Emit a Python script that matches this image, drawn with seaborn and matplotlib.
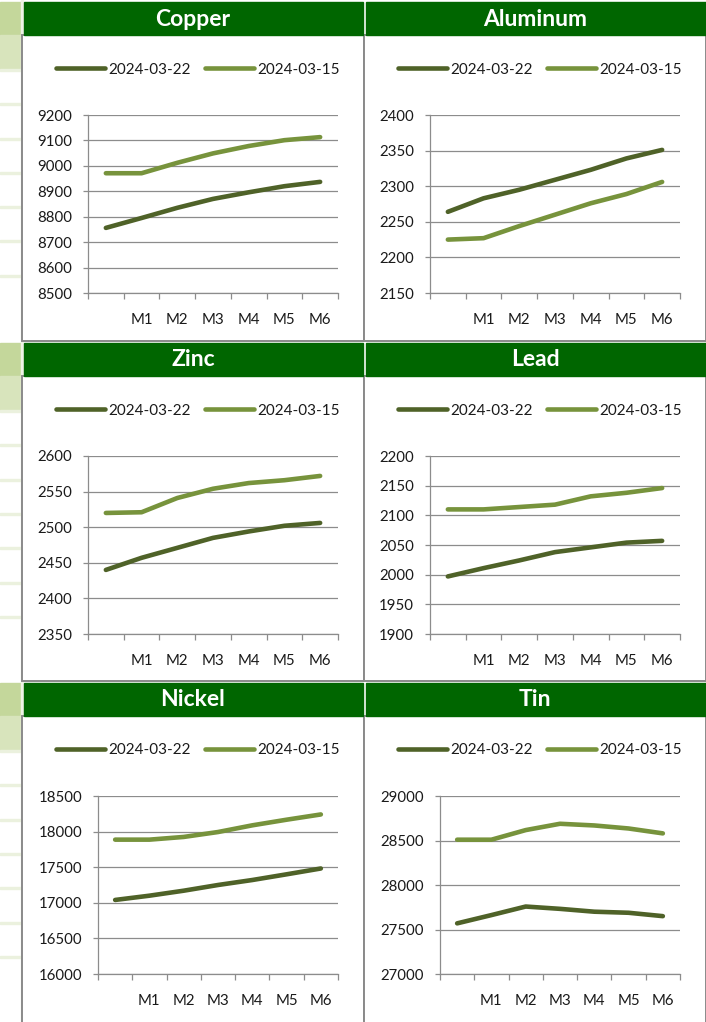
"""
Six-panel LME forward-curve chart (Excel style), rebuilt with seaborn.
"""
import matplotlib
matplotlib.use("Agg")
import matplotlib.pyplot as plt
from matplotlib.patches import Rectangle
import numpy as np
import pandas as pd
import seaborn as sns

W, H = 706, 1022

# ---- data -------------------------------------------------------------
CONTRACTS = ["", "M1", "M2", "M3", "M4", "M5", "M6"]
DATES = ["2024-03-22", "2024-03-15"]
METALS = ["Copper", "Aluminum", "Zinc", "Lead", "Nickel", "Tin"]

COPPER_0322 = [8756, 8795, 8835, 8870, 8896, 8920, 8937]
COPPER_0315 = [8971, 8971, 9012, 9049, 9078, 9101, 9113]
ALUMINUM_0322 = [2264, 2283, 2295, 2309, 2323, 2339, 2351]
ALUMINUM_0315 = [2225, 2227, 2244, 2260, 2276, 2289, 2306]
ZINC_0322 = [2440, 2457, 2471, 2485, 2494, 2502, 2506]
ZINC_0315 = [2520, 2521, 2541, 2554, 2562, 2566, 2572]
LEAD_0322 = [1997, 2011, 2024, 2038, 2046, 2054, 2057]
LEAD_0315 = [2110, 2110, 2114, 2118, 2132, 2138, 2146]
NICKEL_0322 = [17040, 17100, 17170, 17250, 17320, 17400, 17482]
NICKEL_0315 = [17887, 17887, 17925, 17994, 18088, 18167, 18241]
TIN_0322 = [27569, 27662, 27758, 27732, 27700, 27688, 27650]
TIN_0315 = [28509, 28509, 28617, 28688, 28669, 28635, 28580]

SERIES = {
    "Copper": (COPPER_0322, COPPER_0315),
    "Aluminum": (ALUMINUM_0322, ALUMINUM_0315),
    "Zinc": (ZINC_0322, ZINC_0315),
    "Lead": (LEAD_0322, LEAD_0315),
    "Nickel": (NICKEL_0322, NICKEL_0315),
    "Tin": (TIN_0322, TIN_0315),
}

# y axis (min, max, step) as shown on each chart
Y_AXES = {
    "Copper": (8500, 9200, 100),
    "Aluminum": (2150, 2400, 50),
    "Zinc": (2350, 2600, 50),
    "Lead": (1900, 2200, 50),
    "Nickel": (16000, 18500, 500),
    "Tin": (27000, 29000, 500),
}

# ---- style ------------------------------------------------------------
DARK = "#4f6228"
LIGHT = "#77933c"
HEADER = "#006600"
GRID = "#8c8c8c"
TEXT = "#1a1a1a"
CELL_MID = "#c4d79b"
CELL_LIGHT = "#d8e4bc"
CELL_LINE = "#ebf1de"

sns.set_theme(style="white")
plt.rcParams["font.family"] = ["Lato", "DejaVu Sans"]


def box(x, y, w, h):
    """pixel box (top-left origin) -> figure fraction rect"""
    return [x / W, 1 - (y + h) / H, w / W, h / H]


fig = plt.figure(figsize=(W / 100, H / 100), dpi=100)
fig.patch.set_facecolor("white")

# spreadsheet cells peeking out on the left
for top in [2, 343, 683]:
    fig.patches.append(Rectangle((0, 1 - (top + 33) / H), 21 / W, 33 / H,
                                 transform=fig.transFigure, color=CELL_MID, zorder=0))
    fig.patches.append(Rectangle((0, 1 - (top + 67) / H), 21 / W, 34 / H,
                                 transform=fig.transFigure, color=CELL_LIGHT, zorder=0))
    for k in range(7):
        yy = top + 67 + 34.3 * k
        fig.patches.append(Rectangle((0, 1 - (yy + 2) / H), 21 / W, 2 / H,
                                     transform=fig.transFigure, color=CELL_LINE, zorder=0))
fig.patches.append(Rectangle((21 / W, 0), 2 / W, 1, transform=fig.transFigure,
                             color="#eef3e6", zorder=0))

header_tops = [2, 343, 683]
body_bottoms = [341, 681, 1030]

for i, metal in enumerate(METALS):
    row, col = divmod(i, 2)
    x0, x1 = (22, 364) if col == 0 else (364, 706)
    htop = header_tops[row]
    btop = htop + 33
    bbot = body_bottoms[row]

    # chart frame and green title bar
    fig.patches.append(Rectangle((x0 / W, 1 - bbot / H), (x1 - x0) / W, (bbot - btop) / H,
                                 transform=fig.transFigure, facecolor="white",
                                 edgecolor="#8a8a8a", lw=1.4, zorder=1))
    hx0 = x0 + 2
    hx1 = x1 - 1 if col == 0 else x1 + 2
    fig.patches.append(Rectangle((hx0 / W, 1 - (htop + 33) / H), (hx1 - hx0) / W, 33 / H,
                                 transform=fig.transFigure, color=HEADER, zorder=2))
    fig.text((x0 + x1) / 2 / W, 1 - (htop + 17) / H, metal, color="white",
             fontsize=16.5, fontweight="bold", ha="center", va="center", zorder=3)

    ymin, ymax, ystep = Y_AXES[metal]
    offset = 76 if ymax >= 10000 else 66
    left, right = x0 + offset, x1 - 26
    ptop, pbot = btop + 80, btop + 258
    ax = fig.add_axes(box(left, ptop, right - left, pbot - ptop))
    ax.set_zorder(5)
    ax.patch.set_alpha(0)

    s_new, s_old = SERIES[metal]
    df = pd.DataFrame({
        "pos": list(range(len(CONTRACTS))) * 2,
        "price": s_new + s_old,
        "date": [DATES[0]] * len(s_new) + [DATES[1]] * len(s_old),
    })
    sns.lineplot(data=df, x="pos", y="price", hue="date", hue_order=DATES,
                 palette=[DARK, LIGHT], linewidth=3.3, solid_capstyle="round",
                 errorbar=None, sort=False, legend=False, ax=ax)

    ax.set_xlim(-0.5, len(CONTRACTS) - 0.5)
    ax.set_ylim(ymin, ymax)
    ax.set_yticks(np.arange(ymin, ymax + ystep / 2, ystep))
    ax.set_xticks(range(len(CONTRACTS)))
    ax.set_xticklabels(CONTRACTS)
    ax.set_xticks(np.arange(-0.5, len(CONTRACTS)), minor=True)
    ax.set_xlabel("")
    ax.set_ylabel("")

    ax.yaxis.grid(True, color=GRID, lw=0.9)
    ax.set_axisbelow(True)
    for side in ["top", "right"]:
        ax.spines[side].set_visible(False)
    for side in ["left", "bottom"]:
        ax.spines[side].set_color(GRID)
        ax.spines[side].set_linewidth(0.9)

    ax.tick_params(axis="y", which="major", length=3.5, width=0.9, color=GRID,
                   pad=8, labelsize=10.8, labelcolor=TEXT, left=True)
    ax.tick_params(axis="x", which="major", length=0, pad=14.5,
                   labelsize=10.8, labelcolor=TEXT)
    ax.tick_params(axis="x", which="minor", length=4.5, width=0.9, color=GRID,
                   direction="out", bottom=True)

    ax.legend(handles=ax.lines[:2], labels=DATES, loc="center",
              bbox_to_anchor=(((x0 + x1) / 2 + 5) / W, 1 - (btop + 34.5) / H),
              bbox_transform=fig.transFigure, ncol=2, frameon=False,
              fontsize=11, handlelength=3.2, handletextpad=0.25,
              columnspacing=0.9, labelcolor=TEXT)

fig.savefig("out.png", dpi=100)
plt.close(fig)
